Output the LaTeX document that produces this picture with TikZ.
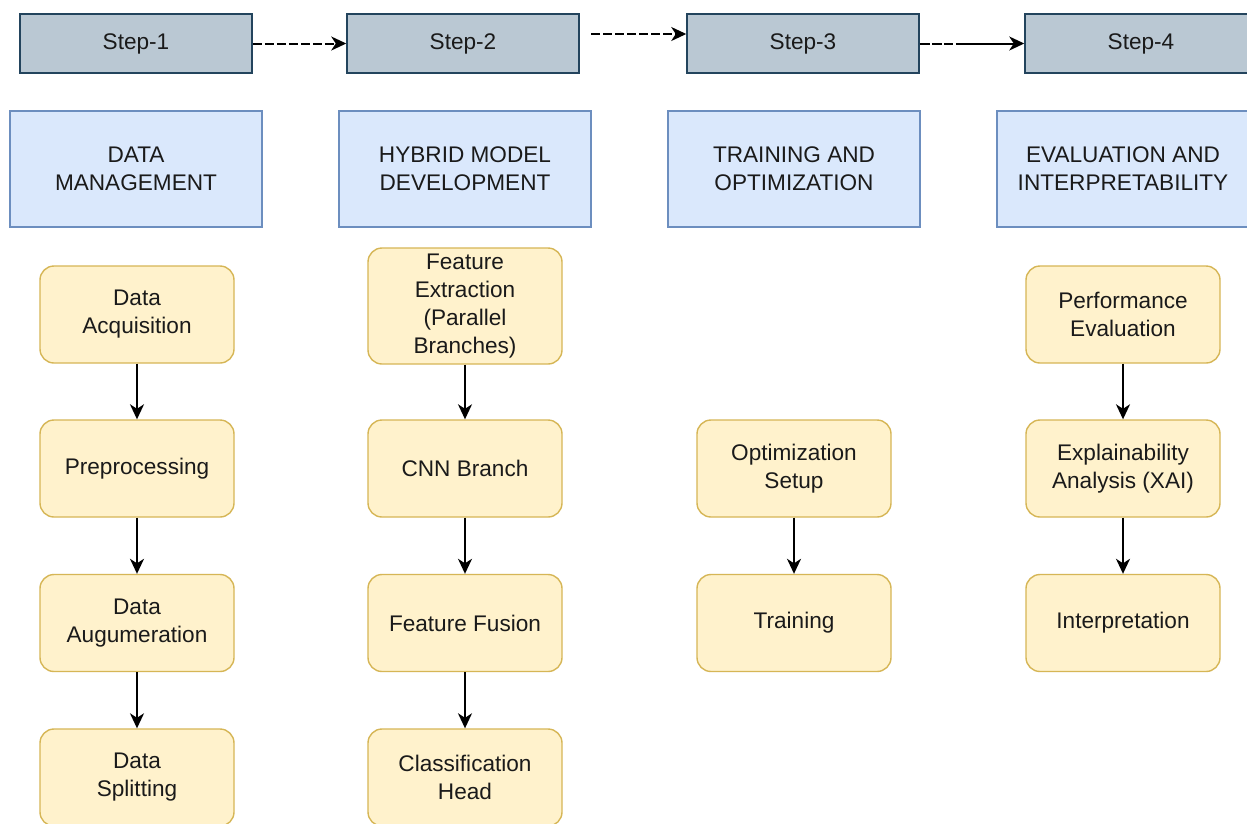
\documentclass[tikz,border=0pt]{standalone}
\usepackage{fontspec}
\setmainfont{Liberation Sans}
\usetikzlibrary{arrows.meta}
\definecolor{stepfill}{HTML}{BAC8D3}
\definecolor{stepline}{HTML}{23445D}
\definecolor{phasefill}{HTML}{DAE8FC}
\definecolor{phaseline}{HTML}{6C8EBF}
\definecolor{taskfill}{HTML}{FFF2CC}
\definecolor{taskline}{HTML}{D6B656}
\definecolor{txt}{HTML}{1A1A1A}
\begin{document}
\begin{tikzpicture}[x=1pt,y=-1pt,
  every node/.style={font=\fontsize{22.6}{28}\selectfont, text=txt, align=center, inner sep=0pt},
  stepbox/.style={draw=stepline, fill=stepfill, line width=1.5pt, minimum width=232pt, minimum height=59pt},
  phasebox/.style={draw=phaseline, fill=phasefill, line width=1.2pt, minimum width=252pt, minimum height=116pt},
  taskbox/.style={draw=taskline, fill=taskfill, line width=1.4pt, rounded corners=14pt, minimum width=194pt, minimum height=97pt},
  flow/.style={draw=black, line width=1.8pt, -{Stealth[length=15pt,width=14pt,inset=4.5pt]}},
  dflow/.style={flow, line width=2pt, dash pattern=on 9pt off 3pt}
]
\useasboundingbox (0,0) rectangle (1247,823);
\clip (0,0) rectangle (1247,823);
\fill[white] (0,0) rectangle (1247,823);

% steps
\node[stepbox] (s1) at (136,43.5) {Step-1};
\node[stepbox] (s2) at (463,43.5) {Step-2};
\node[stepbox] (s3) at (803,43.5) {Step-3};
\node[stepbox] (s4) at (1141,43.5) {Step-4};

% phases
\node[phasebox] (p1) at (136,169) {DATA\\MANAGEMENT};
\node[phasebox] (p2) at (465,169) {HYBRID MODEL\\DEVELOPMENT};
\node[phasebox] (p3) at (794,169) {TRAINING AND\\OPTIMIZATION};
\node[phasebox] (p4) at (1123,169) {EVALUATION AND\\INTERPRETABILITY};

% column 1
\node[taskbox] (a1) at (137,314.5) {Data\\Acquisition};
\node[taskbox] (a2) at (137,468.5) {Preprocessing};
\node[taskbox] (a3) at (137,623) {Data\\Augumeration};
\node[taskbox] (a4) at (137,777.5) {Data\\Splitting};

% column 2
\node[taskbox, minimum height=116pt] (b1) at (465,306) {Feature\\Extraction\\(Parallel\\Branches)};
\node[taskbox] (b2) at (465,468.5) {CNN Branch};
\node[taskbox] (b3) at (465,623) {Feature Fusion};
\node[taskbox] (b4) at (465,777.5) {Classification\\Head};

% column 3
\node[taskbox] (c1) at (794,468.5) {Optimization\\Setup};
\node[taskbox] (c2) at (794,623) {Training};

% column 4
\node[taskbox] (d1) at (1123,314.5) {Performance\\Evaluation};
\node[taskbox] (d2) at (1123,468.5) {Explainability\\Analysis (XAI)};
\node[taskbox] (d3) at (1123,623) {Interpretation};

% step connectors
\draw[dflow] (s1.east) -- (s2.west);
\coordinate (k23) at (591,34);
\draw[dflow] (k23) -- (s3.west |- k23);
\draw[dflow, dash pattern=on 10pt off 2pt on 10pt off 2pt on 9pt off 3pt on 200pt] (s3.east) -- (s4.west);

% vertical flows
\draw[flow] (a1) -- (a2);
\draw[flow] (a2) -- (a3);
\draw[flow] (a3) -- (a4);
\draw[flow] (b1) -- (b2);
\draw[flow] (b2) -- (b3);
\draw[flow] (b3) -- (b4);
\draw[flow] (c1) -- (c2);
\draw[flow] (d1) -- (d2);
\draw[flow] (d2) -- (d3);
\end{tikzpicture}
\end{document}
